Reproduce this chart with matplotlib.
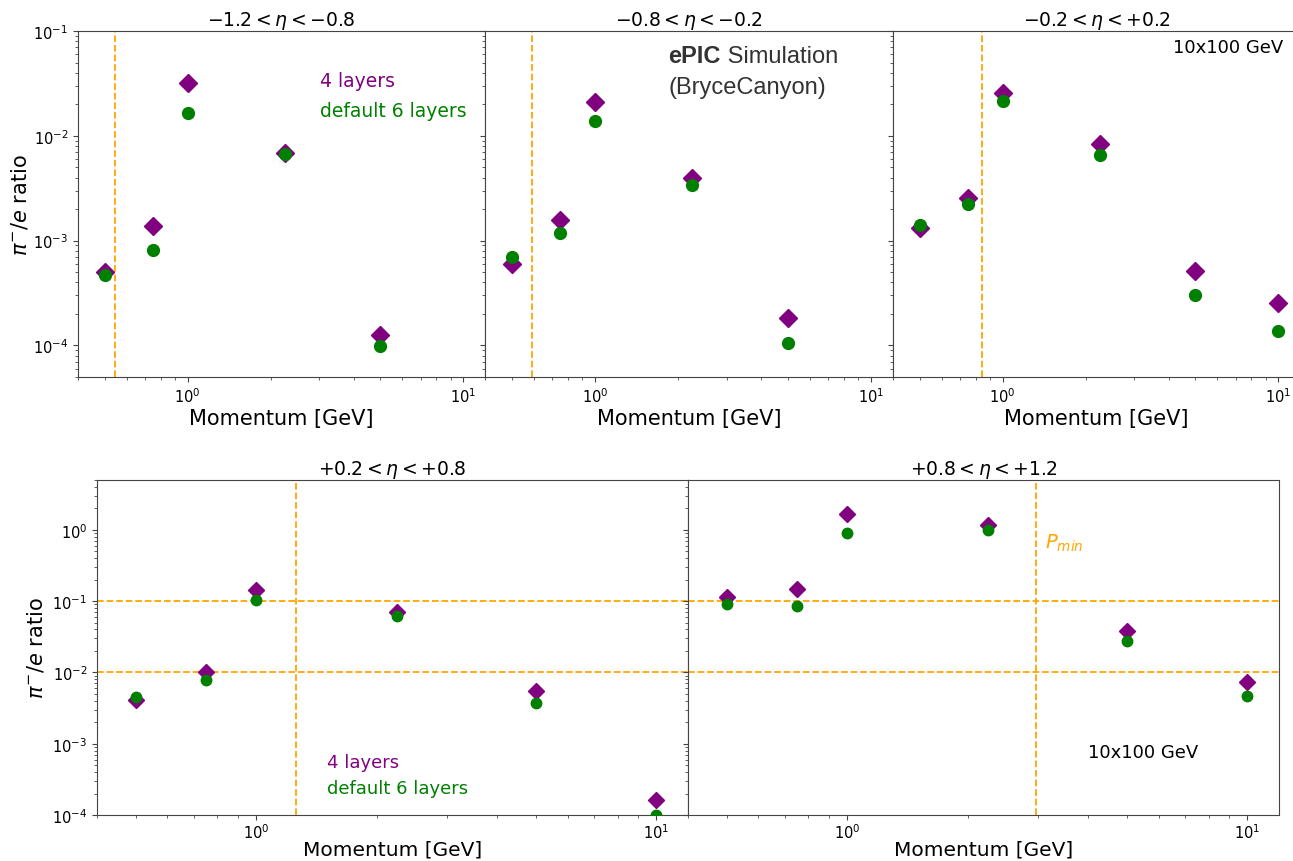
import matplotlib
matplotlib.use("Agg")
import matplotlib.pyplot as plt
import numpy as np

# ---------------------------------------------------------------------------
# Data
# ---------------------------------------------------------------------------

MOMENTUM = [0.5, 0.75, 1.0, 2.25, 5.0, 10.0]

ETA_TITLES = [
    r"$-1.2 < \eta < -0.8$",
    r"$-0.8 < \eta < -0.2$",
    r"$-0.2 < \eta < +0.2$",
    r"$+0.2 < \eta < +0.8$",
    r"$+0.8 < \eta < +1.2$",
]

# pi-/e ratio, 4 layers (purple diamonds)
four_layers_eta1 = [5.0e-4, 1.38e-3, 3.2e-2, 6.8e-3, 1.26e-4, np.nan]
four_layers_eta2 = [6.0e-4, 1.59e-3, 2.1e-2, 3.98e-3, 1.82e-4, np.nan]
four_layers_eta3 = [1.32e-3, 2.55e-3, 2.56e-2, 8.3e-3, 5.1e-4, 2.55e-4]
four_layers_eta4 = [4.1e-3, 1.01e-2, 0.145, 7.05e-2, 5.5e-3, 1.62e-4]
four_layers_eta5 = [0.113, 0.146, 1.67, 1.16, 3.8e-2, 7.4e-3]

# pi-/e ratio, default 6 layers (green circles)
six_layers_eta1 = [4.66e-4, 8.06e-4, 1.66e-2, 6.7e-3, 9.85e-5, np.nan]
six_layers_eta2 = [6.97e-4, 1.17e-3, 1.37e-2, 3.41e-3, 1.06e-4, np.nan]
six_layers_eta3 = [1.40e-3, 2.26e-3, 2.16e-2, 6.6e-3, 3.04e-4, 1.37e-4]
six_layers_eta4 = [4.57e-3, 7.8e-3, 0.105, 6.1e-2, 3.77e-3, 1.0e-4]
six_layers_eta5 = [9.1e-2, 8.5e-2, 0.89, 1.0, 2.74e-2, 4.67e-3]

# minimum momentum per eta bin (vertical dashed line)
P_MIN = [0.547, 0.593, 0.84, 1.26, 2.97]

# pion rejection levels shown in the forward bins
REJECTION_LEVELS = [0.1, 0.01]

PURPLE = "purple"
GREEN = "green"
ORANGE = "orange"

W, H = 1293, 862

plt.rcParams.update({
    "font.family": "DejaVu Sans",
    "axes.edgecolor": "#444444",
    "xtick.color": "#444444",
    "ytick.color": "#444444",
    "xtick.labelcolor": "black",
    "ytick.labelcolor": "black",
    "xtick.labelsize": 10.5,
    "ytick.labelsize": 10.5,
})


def px_axes(fig, x0, x1, y0, y1, **kw):
    """Add axes from pixel box (top-left origin)."""
    return fig.add_axes([x0 / W, 1 - y1 / H, (x1 - x0) / W, (y1 - y0) / H], **kw)


def draw_panel(ax, four, six, title, pmin, ms_d, ms_o, hlines=False, xlabelpad=2):
    ax.set_xscale("log")
    ax.set_yscale("log")
    if hlines:
        for lvl in REJECTION_LEVELS:
            ax.axhline(lvl, color=ORANGE, ls="--", lw=1.3, zorder=1)
    ax.axvline(pmin, color=ORANGE, ls="--", lw=1.3, zorder=1)
    ax.plot(MOMENTUM, four, ls="none", marker="D", ms=ms_d, color=PURPLE,
            zorder=3, clip_on=False)
    ax.plot(MOMENTUM, six, ls="none", marker="o", ms=ms_o, color=GREEN,
            zorder=4, clip_on=True)
    ax.set_xlim(0.4, 12)
    ax.set_title(title, fontsize=13.5, pad=4)
    ax.set_xlabel("Momentum [GeV]", fontsize=15, labelpad=xlabelpad)


fig = plt.figure(figsize=(W / 100, H / 100), dpi=100)

# top row
ax1 = px_axes(fig, 78, 485, 32, 378)
ax2 = px_axes(fig, 485, 893, 32, 378, sharey=ax1)
ax3 = px_axes(fig, 893, 1300, 32, 378, sharey=ax1)

draw_panel(ax1, four_layers_eta1, six_layers_eta1, ETA_TITLES[0], P_MIN[0], 9.5, 8.5)
draw_panel(ax2, four_layers_eta2, six_layers_eta2, ETA_TITLES[1], P_MIN[1], 9.5, 8.5)
draw_panel(ax3, four_layers_eta3, six_layers_eta3, ETA_TITLES[2], P_MIN[2], 9.5, 8.5)
ax1.set_ylim(5e-5, 1e-1)
ax1.set_ylabel(r"$\pi^{-}/e$ ratio", fontsize=15, labelpad=2)
for ax in (ax2, ax3):
    ax.tick_params(axis="y", which="both", labelleft=False)

ax1.text(0.595, 0.858, "4 layers", color=PURPLE, fontsize=13.5,
         transform=ax1.transAxes, va="center")
ax1.text(0.595, 0.769, "default 6 layers", color=GREEN, fontsize=13.5,
         transform=ax1.transAxes, va="center")

t = ax2.text(0.449, 0.928, "ePIC", fontsize=17, fontweight="bold",
             family="Liberation Sans", color="#333333",
             transform=ax2.transAxes, va="center")
ax2.annotate(" Simulation", xy=(1, 0.5), xycoords=t, va="center",
             fontsize=17, family="Liberation Sans", color="#333333")
ax2.text(0.449, 0.838, "(BryceCanyon)", fontsize=17, family="Liberation Sans",
         color="#333333", transform=ax2.transAxes, va="center")

ax3.text(0.958, 0.954, "10x100 GeV", fontsize=13, ha="right", va="center",
         transform=ax3.transAxes)

# bottom row
ax4 = px_axes(fig, 97, 688, 481, 816)
ax5 = px_axes(fig, 688, 1279, 481, 816, sharey=ax4)

draw_panel(ax4, four_layers_eta4, six_layers_eta4, ETA_TITLES[3], P_MIN[3], 8.0, 7.5,
           hlines=True, xlabelpad=-1)
draw_panel(ax5, four_layers_eta5, six_layers_eta5, ETA_TITLES[4], P_MIN[4], 8.0, 7.5,
           hlines=True, xlabelpad=-1)
ax4.xaxis.label.set_fontsize(14.5)
ax5.xaxis.label.set_fontsize(14.5)
ax4.tick_params(axis="x", which="major", pad=2)
ax5.tick_params(axis="x", which="major", pad=2)
ax4.set_ylim(1e-4, 5)
ax4.set_ylabel(r"$\pi^{-}/e$ ratio", fontsize=15, labelpad=4)
ax5.tick_params(axis="y", which="both", labelleft=False)

ax4.text(0.389, 0.158, "4 layers", color=PURPLE, fontsize=13,
         transform=ax4.transAxes, va="center")
ax4.text(0.389, 0.081, "default 6 layers", color=GREEN, fontsize=13,
         transform=ax4.transAxes, va="center")

ax5.text(0.604, 0.814, r"$P_{min}$", color=ORANGE, fontsize=14,
         transform=ax5.transAxes, va="center")
ax5.text(0.677, 0.188, "10x100 GeV", fontsize=13, va="center",
         transform=ax5.transAxes)

fig.savefig("out.png", dpi=100, facecolor="white")
